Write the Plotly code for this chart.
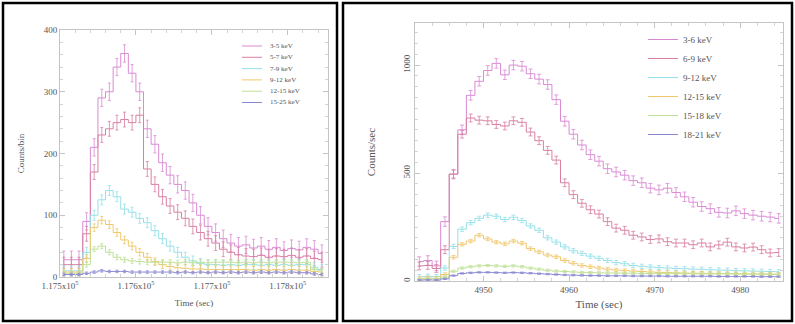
import plotly.graph_objects as go

# ---------------- data ----------------
# Left panel: 10 s bins (bin centres, seconds)
left_time = list(range(117505, 117855, 10))
left_names = ["3-5 keV", "5-7 keV", "7-9 keV", "9-12 keV", "12-15 keV", "15-25 keV"]
left_s1 = [28, 28, 28, 90, 210, 290, 300, 340, 362, 330, 300, 240, 215, 185, 165, 150, 140, 120,
           100, 82, 72, 62, 55, 50, 52, 47, 50, 45, 48, 43, 46, 44, 48, 45, 38]
left_s2 = [20, 20, 20, 70, 170, 230, 240, 250, 255, 250, 262, 175, 150, 130, 115, 105, 95, 82,
           72, 62, 55, 45, 40, 36, 34, 33, 35, 32, 34, 33, 35, 32, 34, 30, 28]
left_s3 = [10, 10, 10, 40, 100, 125, 140, 130, 110, 105, 95, 88, 75, 62, 50, 40, 32, 26,
           22, 20, 20, 19, 20, 19, 20, 20, 19, 20, 19, 20, 19, 20, 20, 15, 12]
left_s4 = [8, 8, 8, 30, 80, 92, 85, 72, 60, 50, 40, 32, 25, 20, 17, 15, 14, 13,
           13, 12, 12, 12, 12, 12, 12, 11, 12, 11, 12, 11, 12, 11, 11, 9, 8]
left_s5 = [6, 6, 6, 20, 45, 50, 40, 32, 28, 26, 25, 24, 24, 24, 24, 23, 24, 23,
           24, 23, 24, 24, 24, 23, 24, 23, 24, 23, 24, 24, 24, 23, 24, 12, 10]
left_s6 = [4, 4, 4, 6, 8, 10, 9, 9, 9, 8, 8, 8, 8, 8, 8, 7, 8, 7,
           8, 7, 8, 7, 8, 7, 8, 7, 8, 7, 8, 7, 8, 7, 7, 5, 4]
left_ticks = [117500, 117600, 117700, 117800]
left_ticktext = ["1.175x10<sup>5</sup>", "1.176x10<sup>5</sup>", "1.177x10<sup>5</sup>", "1.178x10<sup>5</sup>"]

# Right panel: 1 s bins (bin centres, seconds)
right_time = [4942.5 + i for i in range(43)]
right_names = ["3-6 keV", "6-9 keV", "9-12 keV", "12-15 keV", "15-18 keV", "18-21 keV"]
right_s1 = [90, 95, 70, 275, 495, 700, 860, 925, 975, 1008, 955, 1000, 995, 960, 935, 910, 840,
            740, 680, 630, 585, 555, 520, 505, 490, 465, 455, 430, 422, 430, 410, 390, 365,
            345, 335, 318, 315, 325, 312, 305, 300, 296, 290]
right_s2 = [70, 72, 58, 145, 495, 680, 755, 745, 742, 725, 718, 742, 735, 690, 650, 605, 560,
            455, 400, 360, 330, 310, 275, 245, 235, 212, 204, 192, 195, 182, 176, 176, 168,
            176, 158, 167, 180, 158, 153, 157, 145, 130, 132]
right_s3 = [20, 22, 20, 60, 160, 240, 270, 290, 305, 300, 285, 295, 280, 255, 235, 200, 180,
            158, 140, 128, 115, 105, 95, 85, 80, 72, 68, 65, 62, 60, 58, 57, 55,
            54, 52, 51, 50, 48, 47, 46, 45, 44, 43]
right_s4 = [12, 14, 12, 30, 110, 170, 185, 212, 195, 180, 172, 185, 175, 150, 135, 120, 112,
            95, 82, 72, 66, 60, 55, 51, 48, 46, 44, 42, 40, 39, 38, 37, 36,
            36, 35, 35, 34, 34, 33, 33, 32, 32, 31]
right_s5 = [8, 9, 8, 18, 45, 60, 66, 70, 72, 70, 68, 70, 66, 60, 55, 50, 46,
            44, 42, 40, 39, 38, 37, 37, 36, 36, 35, 35, 35, 34, 34, 34, 34,
            33, 33, 33, 33, 32, 32, 32, 32, 31, 31]
right_s6 = [4, 5, 4, 10, 25, 35, 38, 40, 40, 39, 38, 39, 38, 36, 34, 32, 30,
            28, 27, 26, 25, 25, 24, 24, 24, 23, 23, 23, 23, 22, 22, 22, 22,
            22, 22, 21, 21, 21, 21, 21, 20, 20, 20]
right_ticks = [4950, 4960, 4970, 4980]

colors = ["#d98ad3", "#d97fa2", "#95e0e8", "#f0c86c", "#bfe095", "#8a88d2"]
left_err = [14, 12, 8, 6, 4, 2]
right_err = [22, 18, 10, 8, 5, 3]

W, H = 795, 324
font = "Liberation Serif"
txt = "#555555"

fig = go.Figure()

for name, ys, c, e in zip(left_names, [left_s1, left_s2, left_s3, left_s4, left_s5, left_s6],
                          colors, left_err):
    fig.add_trace(go.Scatter(
        x=left_time, y=ys, name=name, mode="lines", line=dict(color=c, width=1, shape="hvh"),
        error_y=dict(type="constant", value=e, color=c, thickness=0.8, width=1.5),
        xaxis="x", yaxis="y", showlegend=False))

for name, ys, c, e in zip(right_names, [right_s1, right_s2, right_s3, right_s4, right_s5, right_s6],
                          colors, right_err):
    fig.add_trace(go.Scatter(
        x=right_time, y=ys, name=name, mode="lines", line=dict(color=c, width=1, shape="hvh"),
        error_y=dict(type="constant", value=e, color=c, thickness=0.8, width=2),
        xaxis="x2", yaxis="y2", legend="legend"))

# compact legend for the left panel (lines + text)
shapes = []
annotations = []
for i, (name, c) in enumerate(zip(left_names, colors)):
    yy = 1 - (46 + 11.3 * i) / H
    shapes.append(dict(type="line", xref="paper", yref="paper", x0=242 / W, x1=262 / W, y0=yy, y1=yy,
                       line=dict(color=c, width=1)))
    annotations.append(dict(xref="paper", yref="paper", x=268 / W, y=yy, text=name, showarrow=False,
                            xanchor="left", yanchor="middle", font=dict(family=font, size=7, color=txt)))

shapes += [
    dict(type="rect", xref="paper", yref="paper", x0=3 / W, x1=337 / W, y0=1 - 321 / H, y1=1 - 3 / H,
         line=dict(color="black", width=2.5)),
    dict(type="rect", xref="paper", yref="paper", x0=343 / W, x1=792 / W, y0=1 - 321 / H, y1=1 - 3 / H,
         line=dict(color="black", width=2.5)),
]

axis_common = dict(showline=True, linecolor="#c4c4c4", linewidth=1, mirror="ticks", automargin=False,
                   ticks="inside", ticklen=5, tickcolor="#c4c4c4", showgrid=False, zeroline=False,
                   tickfont=dict(family=font, size=9, color=txt),
                   minor=dict(ticks="inside", ticklen=3, tickcolor="#d4d4d4"))

fig.update_layout(
    width=W, height=H, autosize=False,
    margin=dict(l=0, r=0, t=0, b=0, pad=0, autoexpand=False),
    paper_bgcolor="white", plot_bgcolor="white",
    font=dict(family=font, color=txt),
    xaxis=dict(axis_common, domain=[60 / W, 328 / W], anchor="y", range=[117500, 117853],
               tickvals=left_ticks, ticktext=left_ticktext,
               title=dict(text="Time (sec)", font=dict(family=font, size=9, color=txt), standoff=9)),
    yaxis=dict(axis_common, domain=[1 - 277 / H, 1 - 30 / H], anchor="x", range=[0, 400],
               tickvals=[0, 100, 200, 300, 400],
               title=dict(text="Counts/bin", font=dict(family=font, size=9, color=txt), standoff=17)),
    xaxis2=dict(axis_common, domain=[415 / W, 783 / W], anchor="y2", range=[4942, 4985],
                tickvals=right_ticks,
                title=dict(text="Time (sec)", font=dict(family=font, size=11, color=txt), standoff=6)),
    yaxis2=dict(axis_common, domain=[1 - 281 / H, 1 - 23 / H], anchor="x2", range=[0, 1195],
                tickvals=[0, 500, 1000], tickangle=-90,
                title=dict(text="Counts/sec", font=dict(family=font, size=11, color=txt), standoff=24)),
    legend=dict(x=643 / W, y=1 - 25 / H, xanchor="left", yanchor="top", bgcolor="rgba(0,0,0,0)",
                font=dict(family=font, size=9, color=txt), itemwidth=30, tracegroupgap=0),
    shapes=shapes,
    annotations=annotations,
)

fig.write_html(
    "out.html",
    config={"displayModeBar": False},
    post_script="document.body.style.margin='0';document.body.style.padding='0';"
                "document.documentElement.style.overflow='hidden';",
)
